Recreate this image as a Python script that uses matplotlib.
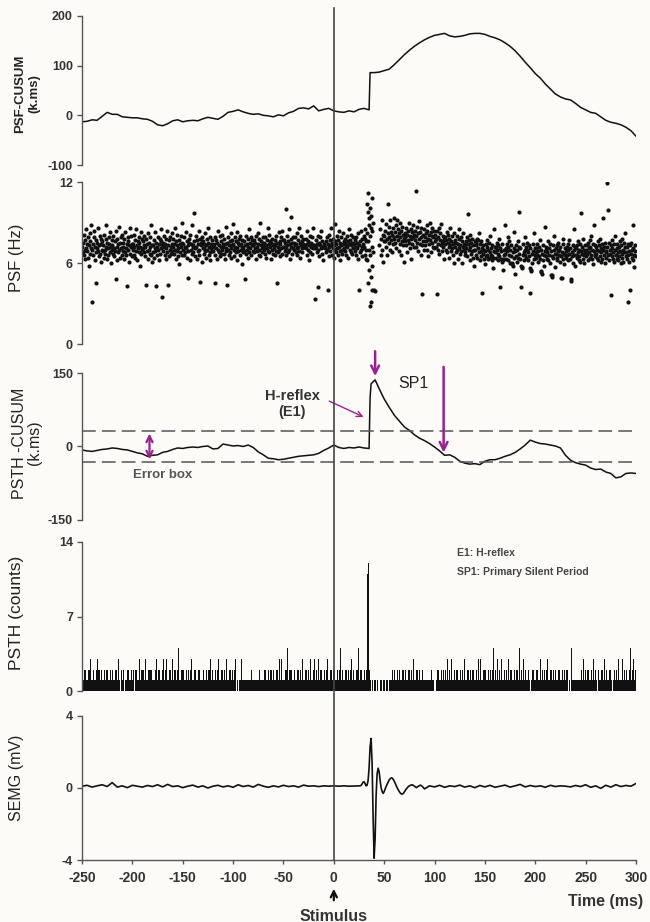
import numpy as np
import matplotlib
matplotlib.use("Agg")
import matplotlib.pyplot as plt
from matplotlib.lines import Line2D
from matplotlib.transforms import blended_transform_factory

plt.rcParams["font.family"] = ["Liberation Sans", "DejaVu Sans"]
plt.rcParams["axes.unicode_minus"] = False

# =========================
# data
# =========================
# PSF-CUSUM (k.ms)
psf_cusum_t = list(range(-250, 36, 5)) + [36] + list(range(40, 301, 5))
psf_cusum_v = [
    -13, -12, -9, -10, -2, 6, 2, 2, -3, -4,
    -5, -5, -7, -8, -12, -19, -21, -17, -11, -9,
    -13, -11, -10, -11, -7, -4, -6, -8, -2, 6,
    8, 11, 7, 4, 2, 3, 0, -1, -3, 1,
    -1, 5, 8, 14, 15, 13, 19, 9, 12, 14,
    9, 7, 6, 9, 7, 12, 14, 11,
    86,
    86, 87, 90, 93, 102, 112, 122, 131, 139, 146,
    152, 157, 161, 163, 165, 160, 158, 159, 161, 164,
    165, 165, 163, 159, 156, 152, 146, 139, 130, 119,
    107, 96, 84, 75, 63, 53, 43, 37, 33, 31,
    24, 16, 11, 6, 4, -3, -10, -14, -16, -19,
    -24, -31, -42,
]

# PSF (Hz), tenths of Hz, one string per time bin
psf_edges = list(range(-250, 31, 10)) + [33, 39, 41, 45] + list(range(50, 301, 10))
psf_bins = [
    "72 68 75 81 66 70 63 77 85 71 69 74 79 64 73 58 76 67 82 71 88 31",
    "70 74 66 79 84 62 72 68 77 45 71 75 69 86 65 73 80 67 74 61 78 70",
    "76 69 73 64 81 70 67 78 72 88 63 75 71 66 79 74 68 83 60 72 77 70",
    "73 67 80 71 65 76 69 84 48 72 62 78 74 68 87 70 75 64 79 71 66 81",
    "69 75 72 63 78 68 83 71 66 74 43 79 70 76 61 73 86 67 72 80 65 74",
    "74 70 66 81 72 77 64 69 85 73 62 76 71 68 79 75 58 72 67 83 70 78",
    "71 76 68 73 80 65 72 44 78 69 74 63 82 70 75 67 79 72 88 66 73 61",
    "68 73 77 64 71 83 69 75 43 72 66 79 70 74 62 78 67 85 71 76 35 73",
    "75 69 72 80 66 74 63 78 71 68 84 44 73 77 65 70 79 72 67 82 74 69",
    "72 78 67 74 70 86 63 76 69 73 81 65 71 77 59 74 68 80 72 66 90 75",
    "70 74 79 66 72 68 83 71 64 76 49 73 69 78 75 62 81 70 74 67 88 72",
    "73 68 76 97 71 65 80 72 77 63 74 69 84 70 66 78 46 73 75 61 79 71",
    "76 71 67 74 82 69 73 64 78 70 75 86 66 72 68 79 62 74 71 77 69 73",
    "69 74 72 66 79 45 71 77 63 75 70 84 68 73 80 65 72 76 67 81 70 74",
    "72 67 78 74 63 71 87 69 75 44 70 79 66 73 76 68 82 71 64 77 73 89",
    "74 70 65 79 72 68 76 83 71 62 75 69 78 73 66 80 70 74 59 77 72 68",
    "71 76 69 73 48 80 67 74 70 78 64 72 85 68 75 71 79 66 73 77 69 74",
    "73 68 77 71 75 63 80 72 69 74 82 66 78 70 90 65 73 76 71 68 79 74",
    "70 75 72 67 79 73 64 77 71 86 69 74 68 81 72 76 63 75 70 78 73 67",
    "74 71 77 66 73 80 69 45 75 72 68 83 70 76 65 74 79 71 67 84 72 77",
    "72 77 69 75 100 71 66 80 73 68 76 85 70 74 63 78 72 94 67 75 71 79",
    "75 70 73 79 68 74 82 71 66 77 72 86 69 75 64 73 80 71 76 68 78 74",
    "72 72 73 72 71 78 66 74 84 70 76 62 73 80 68 72 75 67 79 71 86 73",
    "73 72 71 33 72 77 68 74 42 80 70 75 65 73 79 71 84 67 76 72 62 74",
    "72 73 71 72 76 68 79 70 74 40 65 81 72 77 69 73 86 66 75 71 78 64",
    "73 70 76 89 68 74 80 71 66 77 72 84 69 75 62 73 79 70 67 82 74 76",
    "71 75 69 78 73 66 80 72 76 64 74 85 70 77 68 73 81 67 75 71 79 74",
    "74 69 77 72 66 79 71 75 63 82 40 73 68 76 70 84 72 78 65 74 71 80",
    "72 78 66 85 76 70 63 82",
    "104 62 112 76 98 45 88 70 55 93 28 80 101 66 50 86 31 95 72 58 108 84 40 68 90",
    "40 39",
    "",
    "73 85 66 78 92 70 61 81 76",
    "80 76 84 72 89 78 66 82 104 75 87 79 70 92 77 83 68 81 74 86 93 79",
    "78 83 75 88 71 80 92 77 85 69 82 74 90 79 66 84 76 87 73 81 61 78",
    "82 76 79 86 73 81 68 84 77 90 75 80 71 85 78 63 83 74 88 79 72 81",
    "77 84 72 80 113 75 87 69 82 78 91 74 83 66 79 86 73 37 81 76 70 85",
    "79 73 82 76 88 70 84 78 65 81 74 90 77 83 68 80 75 86 72 79 71 84",
    "76 81 72 78 37 84 70 79 74 86 67 77 82 73 89 75 69 80 72 76 63 78",
    "74 79 70 77 83 68 75 81 72 64 78 73 86 69 76 71 80 74 66 82 75 60",
    "72 77 68 75 80 70 74 63 78 71 85 67 73 79 69 76 60 72 82 70 74 66",
    "73 68 76 71 79 65 74 96 70 77 62 72 81 67 75 69 78 64 73 70 58 76",
    "70 75 66 73 78 64 71 77 68 82 62 74 69 65 76 71 38 67 73 63 70 59",
    "69 74 65 72 66 77 63 70 75 64 68 80 71 66 73 62 65 64 56 69 85 72",
    "68 72 64 75 70 62 73 67 78 65 71 42 69 63 74 61 63 62 55 70 66 88",
    "67 71 63 74 69 79 62 72 66 76 60 70 65 73 60 59 58 68 83 64 71 52",
    "69 65 73 61 70 76 64 72 67 98 63 71 42 58 57 56 66 74 68 62 79 70",
    "66 72 64 70 75 62 68 73 65 71 38 56 55 54 67 60 74 69 63 82 66 71",
    "68 64 71 66 74 61 69 72 65 77 63 70 54 53 52 67 62 73 58 66 87 69",
    "70 65 72 63 68 76 62 71 66 74 60 69 51 51 50 65 73 64 70 80 67 57",
    "67 71 64 73 62 69 75 66 70 61 72 65 49 49 68 74 63 78 67 59 71 66",
    "69 64 72 66 74 62 70 67 77 63 71 48 47 68 65 73 60 70 85 66 72 58",
    "66 71 64 73 68 76 62 70 65 74 61 69 97 67 72 63 78 66 70 60 73 68",
    "70 65 73 67 75 62 71 68 77 64 72 66 80 63 70 74 59 69 88 67 73 65",
    "67 72 64 70 76 62 69 73 65 78 61 71 68 74 63 93 70 66 72 60 75 68",
    "69 64 119 72 66 99 75 62 70 67 73 36 65 71 77 63 68 74 61 70 80 66",
    "66 71 63 74 68 62 72 65 76 69 60 73 67 78 64 70 61 75 68 72 82 65",
    "68 63 72 66 31 74 69 61 73 40 67 75 64 70 62 71 88 66 57 73 69 65",
]

# PSTH-CUSUM (k.ms)
psth_cusum_t = list(range(-250, 36, 5)) + [36, 37, 41] + list(range(45, 301, 5))
psth_cusum_v = [
    -7, -9, -10, -8, -6, -5, -3, -4, -6, -7,
    -10, -13, -15, -20, -18, -17, -12, -10, -6, -3,
    -4, -2, -1, -2, 0, 1, -5, -4, 5, 3,
    1, 2, 0, 3, -2, -11, -17, -24, -25, -27,
    -26, -24, -22, -20, -19, -18, -17, -14, -8, -3,
    3, -2, -4, -2, -3, -1, -3, -4,
    100, 128, 136,
    118, 97, 80, 64, 52, 40, 33, 24, 17, 12,
    6, -1, -9, -18, -17, -22, -30, -34, -36, -35,
    -37, -30, -27, -27, -24, -20, -17, -12, -5, 3,
    13, 9, 6, 5, 3, 1, -3, -18, -28, -33,
    -36, -38, -44, -47, -46, -52, -55, -64, -62, -55,
    -54, -55,
]
error_box = 32

# PSTH counts, 1 ms bins from -250 ms (hex digits: b = 11, c = 12)
psth_rows = [
    "1122112231 1211232212 1121221121 2112213102 1201122112",
    "1202211312 2213112221 1123122112 3123112213 1221241122",
    "2112121231 1221122111 2112122312 1121231122 1213112212",
    "1230101131 1111111121 1111112111 1221121221 2112213131",
    "1122412211 2112212131 1221213112 3121312211 2123112212",
    "2112124121 1221212312 1122412211 212bc21010 1101001101",
    "1011011121 2112121122 1211221213 1122121121 1111112110",
    "0122112121 2131213112 1221121213 1122121221 1213131122",
    "2112121241 2131213112 1213122112 1221412131 2112101221",
    "1221131212 1231122121 2112211212 1201041111 1111121312",
    "1221121312 1021122131 2112210121 2131113121 2112412312",
]

# SEMG (mV)
semg_t = (list(range(-250, 26, 5)) + list(range(26, 71))
          + list(range(72, 89, 2)) + list(range(90, 301, 5)))
semg_v = [
    0.10, 0.15, 0.05, 0.12, 0.18, 0.08, 0.30, 0.05, 0.12, 0.02,
    0.15, 0.10, 0.05, 0.14, 0.08, 0.18, 0.06, 0.20, 0.08, 0.12,
    0.02, 0.10, 0.16, 0.05, 0.12, 0.00, 0.10, 0.15, 0.06, 0.12,
    0.04, 0.18, 0.08, 0.14, 0.05, 0.20, 0.10, 0.04, 0.12, 0.06,
    0.15, 0.08, 0.12, 0.05, 0.16, 0.10, 0.12, 0.08, 0.12, 0.10,
    0.12, 0.10, 0.12, 0.10, 0.11, 0.12,
    0.12, 0.14, 0.22, 0.32, 0.35, 0.25, 0.12, 0.15, 0.40, 1.10,
    2.30, 2.75, 1.40, -1.60, -3.90, -2.80, -0.40, 0.80, 1.10, 0.90,
    0.40, 0.00, -0.20, -0.30, -0.20, -0.05, 0.10, 0.22, 0.35, 0.45,
    0.52, 0.56, 0.55, 0.48, 0.38, 0.25, 0.12, 0.00, -0.10, -0.20,
    -0.28, -0.33, -0.34, -0.30, -0.22,
    -0.05, 0.08, 0.15, 0.18, 0.10, 0.02, 0.10, 0.16, 0.08,
    -0.05, 0.12, 0.06, 0.15, 0.04, 0.12, 0.08, 0.16, 0.05, 0.12,
    0.02, 0.14, 0.06, 0.15, 0.04, 0.10, 0.16, 0.05, 0.12, 0.20,
    0.06, 0.14, 0.08, 0.12, 0.04, 0.15, 0.08, 0.12, 0.10, 0.06,
    0.14, 0.08, 0.18, 0.04, 0.12, -0.02, 0.15, 0.05, 0.18, 0.08,
    0.14, 0.10, 0.25,
]

BG = "#fcfbf8"
INK = "#111111"
AXC = "#555555"
TXT = "#333333"
PURPLE = "#9c1f8f"

# =========================
# layout helpers (pixel based)
# =========================
FW, FH = 650, 922
X0, X1 = 82, 636

fig = plt.figure(figsize=(FW / 100, FH / 100), dpi=100, facecolor=BG)


def make_axes(top, bottom):
    return fig.add_axes([X0 / FW, 1 - bottom / FH, (X1 - X0) / FW, (bottom - top) / FH])


def style_axis(ax, ylim, yticks, show_x=False):
    ax.set_xlim(-250, 300)
    ax.set_ylim(*ylim)
    ax.set_yticks(yticks)
    ax.set_facecolor("none")
    ax.spines["top"].set_visible(False)
    ax.spines["right"].set_visible(False)
    ax.spines["left"].set_color(AXC)
    ax.spines["left"].set_linewidth(1.0)
    if show_x:
        ax.spines["bottom"].set_color(AXC)
        ax.spines["bottom"].set_linewidth(1.0)
        ax.set_xticks(range(-250, 301, 50))
        ax.tick_params(axis="x", length=3, width=1, color=AXC, labelsize=10,
                       labelcolor=TXT, pad=5)
        for lab in ax.get_xticklabels():
            lab.set_fontweight("bold")
    else:
        ax.spines["bottom"].set_visible(False)
        ax.tick_params(axis="x", bottom=False, labelbottom=False)
    ax.tick_params(axis="y", length=3.5, width=1, color=AXC, labelsize=9,
                   labelcolor=TXT, pad=3)
    for lab in ax.get_yticklabels():
        lab.set_fontweight("bold")


# =========================
# 1. PSF-CUSUM
# =========================
ax1 = make_axes(16, 165)
ax1.plot(psf_cusum_t, psf_cusum_v, color=INK, lw=1.1)
style_axis(ax1, (-100, 200), [-100, 0, 100, 200])

# =========================
# 2. PSF scatter
# =========================
ax2 = make_axes(182, 344)
px, py = [], []
for lo, hi, s in zip(psf_edges[:-1], psf_edges[1:], psf_bins):
    vals = [float(v) / 10 for v in s.split()]
    n = len(vals)
    for k, v in enumerate(vals):
        px.append(lo + (k + 0.5) * (hi - lo) / n)
        py.append(v)
ax2.scatter(px, py, s=9, color=INK, linewidths=0)
style_axis(ax2, (0, 12), [0, 6, 12])

# =========================
# 3. PSTH-CUSUM
# =========================
ax3 = make_axes(373, 520)
ax3.plot(psth_cusum_t, psth_cusum_v, color=INK, lw=1.1)
for lvl in (error_box, -error_box):
    ax3.axhline(lvl, color=AXC, lw=1.1, linestyle=(0, (9, 4)))
style_axis(ax3, (-150, 150), [-150, 0, 150])

arrow_kw = dict(arrowstyle="->", color=PURPLE, lw=1.8, mutation_scale=14)
ax3.annotate("", xy=(41, 138), xytext=(41, 200), arrowprops=arrow_kw,
             annotation_clip=False)
ax3.annotate("", xy=(109, -18), xytext=(109, 168), arrowprops=arrow_kw,
             annotation_clip=False)
ax3.annotate("", xy=(32, 58), xytext=(-7, 95),
             arrowprops=dict(arrowstyle="->", color=PURPLE, lw=1.0, mutation_scale=10))
ax3.annotate("", xy=(-183, -error_box), xytext=(-183, error_box),
             arrowprops=dict(arrowstyle="<->", color=PURPLE, lw=1.6, mutation_scale=11))
ax3.text(-41, 103, "H-reflex", ha="center", va="center", fontsize=10.5,
         fontweight="bold", color=TXT)
ax3.text(-42, 70, "(E1)", ha="center", va="center", fontsize=10.5,
         fontweight="bold", color=TXT)
ax3.text(-170, -59, "Error box", ha="center", va="center", fontsize=9.5,
         fontweight="bold", color=AXC)
ax3.text(79, 128, "SP1", ha="center", va="center", fontsize=11.5, color="#222222")

# =========================
# 4. PSTH
# =========================
ax4 = make_axes(542, 691)
counts = [int(c, 16) for c in "".join(psth_rows).replace(" ", "")]
bins_t = np.arange(-250, -250 + len(counts))
ax4.bar(bins_t, counts, width=1.0, align="edge", color=INK, linewidth=0)
style_axis(ax4, (0, 14), [0, 7, 14])
ax4.text(122, 13.0, "E1: H-reflex", ha="left", va="center", fontsize=7.5,
         fontweight="bold", color="#444444")
ax4.text(122, 11.2, "SP1: Primary Silent Period", ha="left", va="center",
         fontsize=7.5, fontweight="bold", color="#444444")

# =========================
# 5. SEMG
# =========================
ax5 = make_axes(716, 860)
ax5.plot(semg_t, semg_v, color=INK, lw=1.2)
style_axis(ax5, (-4, 4), [-4, 0, 4], show_x=True)

# =========================
# y labels
# =========================
def ylab(x, y, s, **kw):
    fig.text(x / FW, 1 - y / FH, s, rotation=90, ha="center", va="center",
             color="#222222", **kw)


ylab(27, 94, "PSF-CUSUM\n(k.ms)", fontsize=9.5, fontweight="bold", linespacing=1.2)
ylab(17, 258, "PSF (Hz)", fontsize=12)
ylab(27, 443, "PSTH -CUSUM\n(k.ms)", fontsize=11.5, linespacing=1.0)
ylab(17, 613, "PSTH (counts)", fontsize=12.5)
ylab(17, 778, "SEMG (mV)", fontsize=11.5)

# =========================
# stimulus line, arrow and axis title
# =========================
blend = blended_transform_factory(ax5.transData, fig.transFigure)
fig.add_artist(Line2D([0, 0], [1 - 8 / FH, 1 - 860 / FH], transform=blend,
                      color="#444444", lw=1.2, zorder=10))
ax5.annotate("", xy=(0, 1 - 886 / FH), xytext=(0, 1 - 903 / FH),
             xycoords=blend, textcoords=blend,
             arrowprops=dict(arrowstyle="->", color=INK, lw=1.6, mutation_scale=11),
             annotation_clip=False)
fig.text(334 / FW, 1 - 916 / FH, "Stimulus", ha="center", va="center",
         fontsize=11.5, fontweight="bold", color=TXT)
fig.text(643 / FW, 1 - 901 / FH, "Time (ms)", ha="right", va="center",
         fontsize=11.5, fontweight="bold", color=TXT)

fig.savefig("out.png", dpi=100, facecolor=BG)
